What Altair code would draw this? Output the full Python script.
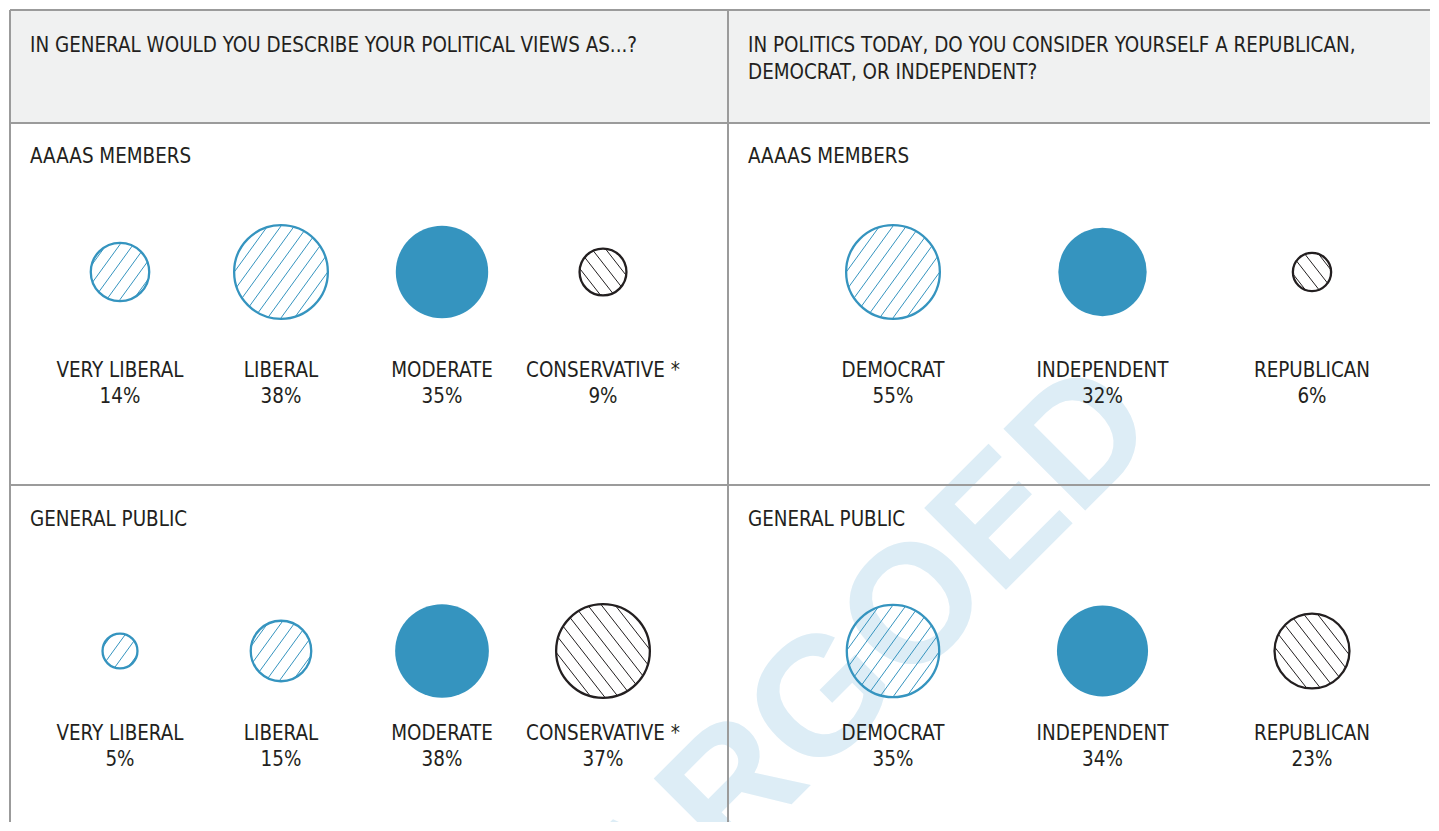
import math
import altair as alt
import pandas as pd

# ---------------- data ----------------
view_categories = ["VERY LIBERAL", "LIBERAL", "MODERATE", "CONSERVATIVE *"]
view_aaas = [14, 38, 35, 9]
view_public = [5, 15, 38, 37]

party_categories = ["DEMOCRAT", "INDEPENDENT", "REPUBLICAN"]
party_aaas = [55, 32, 6]
party_public = [35, 34, 23]

questions = [
    "IN GENERAL WOULD YOU DESCRIBE YOUR POLITICAL VIEWS AS...?",
    "IN POLITICS TODAY, DO YOU CONSIDER YOURSELF A REPUBLICAN,\nDEMOCRAT, OR INDEPENDENT?",
]
groups = ["AAAAS MEMBERS", "GENERAL PUBLIC"]
watermark = ["EMBARGOED"]

# ---------------- styling ----------------
BLUE = "#3594bf"
INK = "#231f20"
GRID = "#9b9b9b"
HEAD_BG = "#f0f1f1"
WM = "#ddedf6"
FONT = "DejaVu Sans Condensed, Liberation Sans Narrow, sans-serif"
FS = 20.4

W, H = 1420, 812          # whole plot area (page x 10..1430, y 10..822)
COL = 718                 # left column width
HEAD_H = 113              # header row height
ROW1_END = 475            # bottom of first row

style_of = {
    "VERY LIBERAL": "blue", "LIBERAL": "blue", "MODERATE": "solid",
    "CONSERVATIVE *": "black",
    "DEMOCRAT": "blue", "INDEPENDENT": "solid", "REPUBLICAN": "black",
}

SIZE_PER_PCT = 244
SIZE_CAP = 36
SIZE_SCALE = alt.Scale(type="linear", domain=[0, SIZE_CAP],
                       range=[0, SIZE_PER_PCT * SIZE_CAP], clamp=True, zero=True)


def radius(p):
    return math.sqrt(SIZE_PER_PCT * min(p, SIZE_CAP)) / 2


def hatch_path(p, angle_deg, gap=10.8):
    """Unit-circle hatch (symbol path), line gap in pixels for the drawn radius."""
    r = radius(p)
    s = gap / r
    a = math.radians(angle_deg)
    dx, dy = math.cos(a), -math.sin(a)
    nx, ny = -dy, dx
    parts = []
    n = int(1 / s) + 1
    for k in range(-n, n + 1):
        o = (k + 0.5) * s
        if abs(o) >= 0.97:
            continue
        h = math.sqrt(1 - o * o)
        x1, y1 = o * nx - h * dx, o * ny - h * dy
        x2, y2 = o * nx + h * dx, o * ny + h * dy
        parts.append(f"M{x1:.4f},{y1:.4f}L{x2:.4f},{y2:.4f}")
    return "".join(parts)


def one_row():
    return pd.DataFrame({"k": [0]})


def panel_layers(cats, vals, x_range, cy, name_y):
    df = pd.DataFrame({"cat": cats, "pct": vals})
    df["label"] = df["pct"].astype(str) + "%"
    df["style"] = df["cat"].map(style_of)
    df["ink"] = [INK if s == "black" else BLUE for s in df["style"]]
    df["hatch"] = [
        hatch_path(p, -52 if s == "black" else 54) for p, s in zip(df["pct"], df["style"])
    ]
    x = alt.X("cat:N", sort=cats,
              scale=alt.Scale(type="point", domain=cats, range=x_range, padding=0),
              axis=None)
    size = alt.Size("pct:Q", scale=SIZE_SCALE, legend=None)
    base = alt.Chart(df)
    solid = base.transform_filter("datum.style == 'solid'").mark_point(
        shape="circle", filled=True, color=BLUE, opacity=1, strokeWidth=0
    ).encode(x=x, y=alt.value(cy), size=size)
    outline = base.transform_filter("datum.style != 'solid'").mark_point(
        shape="circle", filled=False, opacity=1, strokeWidth=2.3
    ).encode(x=x, y=alt.value(cy), size=size, color=alt.Color("ink:N", scale=None))
    hatch = base.transform_filter("datum.style != 'solid'").mark_point(
        filled=False, opacity=1, strokeWidth=1
    ).encode(x=x, y=alt.value(cy), size=size,
             shape=alt.Shape("hatch:N", scale=None, legend=None),
             color=alt.Color("ink:N", scale=None))
    name = base.mark_text(font=FONT, fontSize=FS, color=INK, align="center",
                          baseline="alphabetic").encode(
        x=x, y=alt.value(name_y), text="cat:N")
    pct = base.mark_text(font=FONT, fontSize=FS, color=INK, align="center",
                         baseline="alphabetic").encode(
        x=x, y=alt.value(name_y + 26), text="label:N")
    return [solid, outline, hatch, name, pct]


def title_text(t, x, y):
    return alt.Chart(pd.DataFrame({"t": [t]})).mark_text(
        font=FONT, fontSize=FS, color=INK, align="left", baseline="alphabetic",
        lineBreak="\n", lineHeight=27,
    ).encode(x=alt.value(x), y=alt.value(y), text="t:N")


def hrule(y):
    return alt.Chart(one_row()).mark_rule(color=GRID, strokeWidth=2).encode(
        x=alt.value(0), x2=alt.value(W), y=alt.value(y))


def vrule(x):
    return alt.Chart(one_row()).mark_rule(color=GRID, strokeWidth=2).encode(
        x=alt.value(x), y=alt.value(0), y2=alt.value(H))


header_bg = alt.Chart(one_row()).mark_rect(color=HEAD_BG).encode(
    x=alt.value(0), x2=alt.value(W), y=alt.value(0), y2=alt.value(HEAD_H))

wm = alt.Chart(pd.DataFrame({"w": watermark})).mark_text(
    font="Liberation Sans, DejaVu Sans, sans-serif", fontWeight="bold", fontSize=168,
    color=WM, angle=315, align="center", baseline="middle", clip=True,
).encode(x=alt.value(725), y=alt.value(780), text="w:N")

layers = [header_bg, wm]
layers += panel_layers(view_categories, view_aaas, [110, 593], 262, 367)
layers += panel_layers(party_categories, party_aaas, [COL + 165, COL + 584], 262, 367)
layers += panel_layers(view_categories, view_public, [110, 593], 641, 730)
layers += panel_layers(party_categories, party_public, [COL + 165, COL + 584], 641, 730)
layers += [
    title_text(questions[0], 20, 42),
    title_text(questions[1], COL + 20, 42),
    title_text(groups[0], 20, 153),
    title_text(groups[0], COL + 20, 153),
    title_text(groups[1], 20, 516),
    title_text(groups[1], COL + 20, 516),
]
layers += [hrule(0), hrule(HEAD_H), hrule(ROW1_END), vrule(0), vrule(COL)]

chart = alt.layer(*layers).resolve_scale(x="independent").properties(
    width=W, height=H,
    padding={"left": 1, "top": 1, "right": 0, "bottom": 0},
    background="white",
).configure_view(stroke=None)

chart.save("out.html", embed_options={"renderer": "svg", "actions": False})
